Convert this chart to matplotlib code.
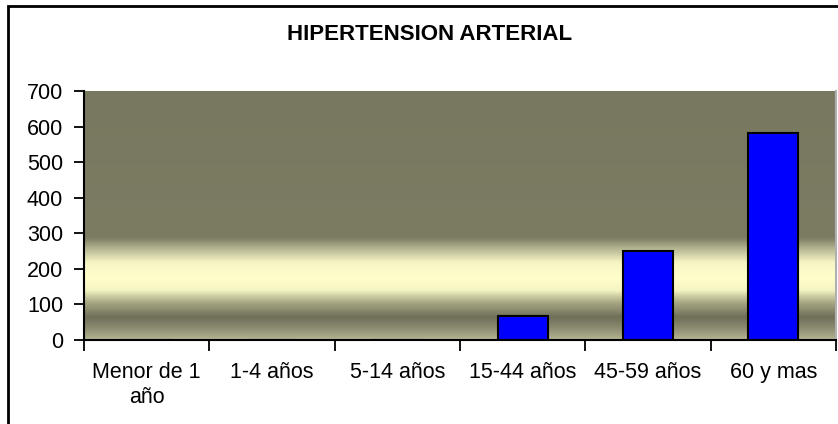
import matplotlib.pyplot as plt
import numpy as np
from matplotlib.colors import LinearSegmentedColormap
from matplotlib.patches import Rectangle

plt.rcParams['font.family'] = ['Liberation Sans', 'DejaVu Sans']

categories = ["Menor de 1\naño", "1-4 años", "5-14 años", "15-44 años", "45-59 años", "60 y mas"]
values = [0, 0, 0, 68, 251, 583]
yticks = [0, 100, 200, 300, 400, 500, 600, 700]

fig = plt.figure(figsize=(8.38, 4.24), dpi=100)
ax = fig.add_axes([84 / 838, 1 - 340 / 424, 752 / 838, 249 / 424])

# background gradient of the plot area (bottom -> top)
stops = [
    (0.00, "#b4b492"),
    (0.04, "#8f8f73"),
    (0.09, "#6f6f59"),
    (0.15, "#a9a985"),
    (0.20, "#f6f6c4"),
    (0.25, "#ffffcc"),
    (0.31, "#f6f6c4"),
    (0.36, "#bdbd98"),
    (0.41, "#7c7c63"),
    (1.00, "#787860"),
]
cmap = LinearSegmentedColormap.from_list("bg", stops)
grad = np.linspace(0, 1, 400).reshape(-1, 1)
ax.imshow(grad, cmap=cmap, origin="lower", aspect="auto",
          extent=(-0.5, 5.5, 0, 700), zorder=0)

x = np.arange(len(categories))
ax.bar(x, values, width=0.4, color="#0000ff", edgecolor="black", linewidth=1.5, zorder=2)

ax.set_xlim(-0.5, 5.5)
ax.set_ylim(0, 700)
ax.set_yticks(yticks)
ax.set_xticks(x)
ax.set_xticklabels(categories, fontsize=15.5, linespacing=1.25)
ax.set_xticks(np.arange(-0.5, 6, 1), minor=True)
ax.tick_params(axis="x", which="major", length=0, pad=16)
ax.tick_params(axis="x", which="minor", length=8, width=1.3, direction="out")
ax.tick_params(axis="y", labelsize=15.5, length=7, width=1.3, pad=8)

ax.spines["top"].set_visible(False)
ax.spines["right"].set_color("#b0b0b0")
ax.spines["right"].set_linewidth(1.5)
ax.spines["left"].set_linewidth(1.5)
ax.spines["bottom"].set_linewidth(1.5)

fig.text(430 / 838, 1 - 34 / 424, "HIPERTENSION ARTERIAL", ha="center", va="center",
         fontsize=16, fontweight="bold")

# chart frame
fig.patches.append(Rectangle((8 / 838, -0.1), 1.2, 1 - 6 / 424 + 0.1, transform=fig.transFigure,
                             fill=False, edgecolor="black", linewidth=2))

fig.savefig("out.png", dpi=100)
